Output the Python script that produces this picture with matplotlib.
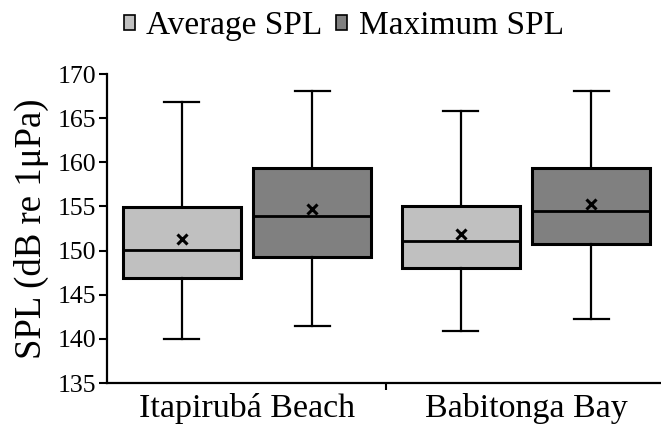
import matplotlib
matplotlib.use("Agg")
import matplotlib.pyplot as plt
from matplotlib.patches import Patch

plt.rcParams["font.family"] = ["Liberation Serif", "DejaVu Serif"]

# box statistics (dB re 1 uPa)
sites = ["Itapirubá Beach", "Babitonga Bay"]
series = ["Average SPL", "Maximum SPL"]
colors = ["#c0c0c0", "#808080"]

avg_whislo = [140.0, 140.9]
avg_q1 = [146.9, 148.0]
avg_med = [150.1, 151.1]
avg_q3 = [154.9, 155.1]
avg_whishi = [166.8, 165.8]
avg_mean = [151.3, 151.9]

max_whislo = [141.5, 142.3]
max_q1 = [149.3, 150.7]
max_med = [153.9, 154.5]
max_q3 = [159.4, 159.4]
max_whishi = [168.1, 168.1]
max_mean = [154.7, 155.3]

yticks = [135, 140, 145, 150, 155, 160, 165, 170]


def make_stats(lo, q1, med, q3, hi, mean):
    return [dict(whislo=lo[i], q1=q1[i], med=med[i], q3=q3[i], whishi=hi[i],
                 mean=mean[i], fliers=[]) for i in range(len(lo))]


fig = plt.figure(figsize=(6.61, 4.32), dpi=100)
ax = fig.add_axes([0.1626, 0.1134, 0.844, 0.7153])

offset = 0.234
width = 0.423
groups = [
    make_stats(avg_whislo, avg_q1, avg_med, avg_q3, avg_whishi, avg_mean),
    make_stats(max_whislo, max_q1, max_med, max_q3, max_whishi, max_mean),
]
for k, stats in enumerate(groups):
    pos = [i + (offset if k else -offset) for i in range(len(sites))]
    ax.bxp(stats, positions=pos, widths=width, patch_artist=True,
           showmeans=True, showfliers=False, manage_ticks=False,
           boxprops=dict(facecolor=colors[k], edgecolor="black", linewidth=2.2),
           medianprops=dict(color="black", linewidth=2.0),
           whiskerprops=dict(color="black", linewidth=1.6),
           capprops=dict(color="black", linewidth=1.6),
           capwidths=0.125,
           meanprops=dict(marker="x", markeredgecolor="black",
                          markersize=7, markeredgewidth=2.2))

ax.set_xlim(-0.5, 1.5)
ax.set_ylim(135, 170)
ax.set_yticks(yticks)
ax.set_xticks(range(len(sites)))
ax.set_xticklabels(sites, fontsize=24.5)
ax.set_xticks([0.5], minor=True)
ax.tick_params(axis="x", which="major", length=0, pad=7)
ax.tick_params(axis="x", which="minor", length=5, width=1.5, direction="out")
ax.tick_params(axis="y", labelsize=18.5, length=6, width=1.5, pad=2)
ax.set_ylabel("SPL (dB re 1μPa)", fontsize=26.5, labelpad=6)

for s in ["top", "right"]:
    ax.spines[s].set_visible(False)
for s in ["left", "bottom"]:
    ax.spines[s].set_linewidth(1.6)

handles = [Patch(facecolor=c, edgecolor="black", linewidth=1.2) for c in colors]
fig.legend(handles, series, loc="center", bbox_to_anchor=(0.52, 0.94),
           ncol=2, frameon=False, fontsize=24, handlelength=0.33,
           handleheight=0.33, handletextpad=0.35, columnspacing=0.4,
           borderaxespad=0)

fig.savefig("out.png", dpi=100)
